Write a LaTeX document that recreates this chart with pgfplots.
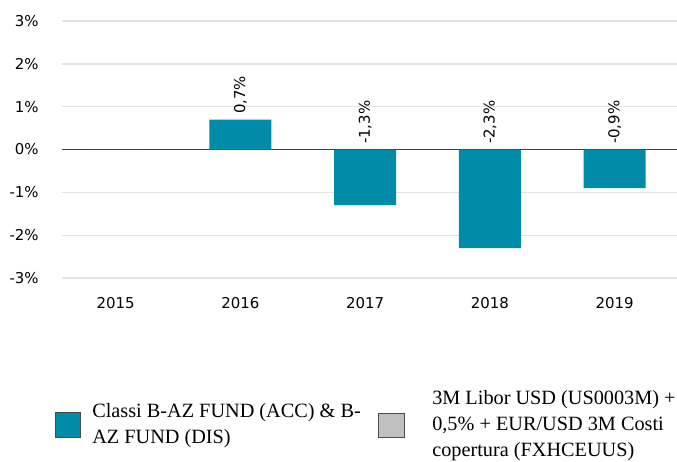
\documentclass[border=0pt]{standalone}
\usepackage{pgfplots}
\pgfplotsset{compat=1.18}
\usepackage{fontspec}
\setmainfont{DejaVu Sans}
\newfontfamily\legfont{Liberation Serif}
\definecolor{barteal}{HTML}{008CA8}
\definecolor{gridgray}{HTML}{E3E3E3}
\definecolor{legendgray}{HTML}{C0C0C0}
\begin{document}
\begin{tikzpicture}
\useasboundingbox (0pt,0pt) rectangle (507.75pt,-345.75pt);
\begin{axis}[
  at={(46.5pt,-15.75pt)}, anchor=north west,
  scale only axis, width=461.25pt, height=192.75pt,
  xmin=-0.43, xmax=4.5, ymin=-3, ymax=3,
  axis line style={draw=none},
  xtick={0,1,2,3,4},
  xticklabels={2015,2016,2017,2018,2019},
  ytick={-3,-2,-1,0,1,2,3},
  yticklabels={-3\%,-2\%,-1\%,0\%,1\%,2\%,3\%},
  major tick length=0pt,
  tick style={draw=none},
  ymajorgrids,
  grid style={color=gridgray, line width=1pt},
  extra y ticks={0},
  extra y tick labels={},
  extra y tick style={grid style={color=black!75, line width=0.9pt}},
  tick label style={font=\fontsize{11.2}{13}\selectfont},
  yticklabel style={xshift=-14pt},
  xticklabel style={yshift=-11pt},
  clip=false,
]
\addplot[ybar, bar width=46.5pt, fill=barteal, draw=none] coordinates {
  (0,0) (1,0.7) (2,-1.3) (3,-2.3) (4,-0.9)
};
\addplot[draw=none, mark=none,
  nodes near coords,
  point meta=explicit symbolic,
  nodes near coords style={rotate=90, anchor=west, font=\fontsize{11.2}{13}\selectfont, inner sep=4pt}]
  coordinates {
  (1,0.7) [0,7\%]
  (2,0) [-1,3\%]
  (3,0) [-2,3\%]
  (4,0) [-0,9\%]
};
\end{axis}
\fill[barteal, draw=black!70, line width=0.6pt] (41.25pt,-309pt) rectangle (60pt,-327.75pt);
\node[anchor=west, inner sep=0pt, align=left, font=\legfont\fontsize{15.2}{19.5}\selectfont] at (69pt,-319.5pt)
  {Classi B-AZ FUND (ACC) \& B-\\AZ FUND (DIS)};
\fill[legendgray, draw=black!70, line width=0.6pt] (283.5pt,-309.75pt) rectangle (303pt,-327.75pt);
\node[anchor=west, inner sep=0pt, align=left, font=\legfont\fontsize{15.2}{19.5}\selectfont] at (324pt,-319.5pt)
  {3M Libor USD (US0003M) +\\0,5\% + EUR/USD 3M Costi\\copertura (FXHCEUUS)};
\end{tikzpicture}
\end{document}
